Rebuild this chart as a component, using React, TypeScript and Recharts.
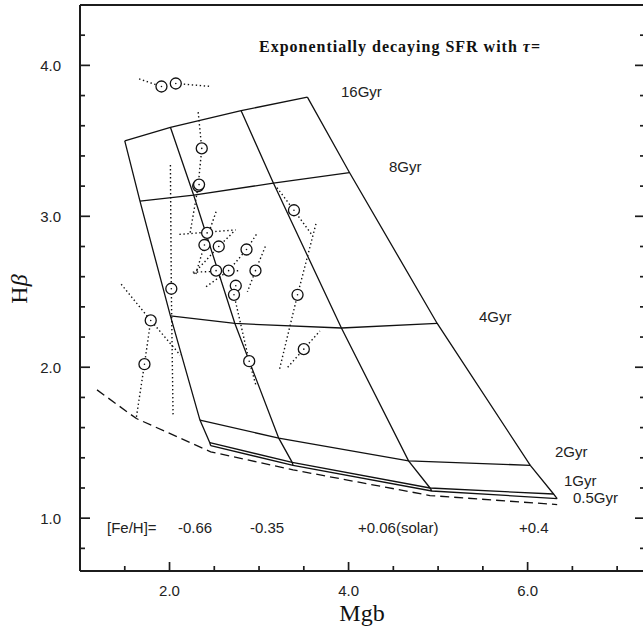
import React from "react";
import { ComposedChart, Scatter, XAxis, YAxis } from "recharts";

type Pt = [number, number];

// axis ticks
const X_TICKS = [1.5, 2.0, 2.5, 3.0, 3.5, 4.0, 4.5, 5.0, 5.5, 6.0, 6.5, 7.0];
const X_MAJOR = [2, 4, 6];
const Y_TICKS = [0.8, 1.0, 1.2, 1.4, 1.6, 1.8, 2.0, 2.2, 2.4, 2.6, 2.8, 3.0, 3.2, 3.4, 3.6, 3.8, 4.0, 4.2];
const Y_MAJOR = [1, 2, 3, 4];

// model tracks, one per [Fe/H], points ordered by age (16, 8, 4, 2, 1, 0.5 Gyr)
const FEH_LABELS = ["-0.66", "-0.35", "+0.06(solar)", "+0.4"];
const AGE_LABELS = ["16Gyr", "8Gyr", "4Gyr", "2Gyr", "1Gyr", "0.5Gyr"];
const TRACK_M066: Pt[] = [[1.50, 3.50], [1.67, 3.10], [2.01, 2.34], [2.34, 1.65], [2.45, 1.50], [2.46, 1.48]];
const TRACK_M035: Pt[] = [[2.01, 3.59], [2.27, 3.14], [2.73, 2.29], [3.22, 1.53], [3.37, 1.37], [3.38, 1.35]];
const TRACK_P006: Pt[] = [[2.80, 3.70], [3.16, 3.22], [3.92, 2.26], [4.67, 1.38], [4.91, 1.20], [4.93, 1.18]];
const TRACK_P040: Pt[] = [[3.54, 3.79], [4.01, 3.29], [4.99, 2.29], [6.03, 1.35], [6.29, 1.16], [6.33, 1.13]];
const TRACKS = [TRACK_M066, TRACK_M035, TRACK_P006, TRACK_P040];

// lower envelope (dashed)
const DASHED: Pt[] = [[1.19, 1.85], [1.63, 1.66], [2.46, 1.44], [3.38, 1.32], [4.91, 1.15], [6.33, 1.09]];

// galaxies
const GALAXIES: Pt[] = [
  [1.91, 3.86], [2.07, 3.88], [2.36, 3.45], [2.32, 3.20], [2.33, 3.21], [3.39, 3.04],
  [2.42, 2.89], [2.39, 2.81], [2.55, 2.80], [2.86, 2.78], [2.52, 2.64], [2.66, 2.64],
  [2.96, 2.64], [2.74, 2.54], [2.72, 2.48], [2.02, 2.52], [1.79, 2.31], [1.72, 2.02],
  [2.89, 2.04], [3.43, 2.48], [3.50, 2.12],
];

// dotted gradient / error lines
const GRADIENTS: Pt[][] = [
  [[1.66, 3.91], [1.91, 3.86]],
  [[2.07, 3.88], [2.47, 3.86]],
  [[2.32, 3.69], [2.36, 3.45], [2.32, 3.20], [2.23, 2.89]],
  [[2.52, 3.03], [2.39, 2.81], [2.29, 2.61]],
  [[2.11, 2.88], [2.74, 2.91]],
  [[2.26, 2.63], [2.79, 2.64]],
  [[2.27, 2.62], [2.55, 2.80], [2.72, 2.90]],
  [[2.97, 2.88], [2.86, 2.78], [2.66, 2.64], [2.40, 2.53]],
  [[3.07, 2.80], [2.96, 2.64], [2.87, 2.50]],
  [[2.74, 2.54], [2.72, 2.48], [2.89, 2.04], [2.97, 1.87]],
  [[2.01, 3.34], [2.02, 2.52], [2.04, 1.67]],
  [[1.46, 2.55], [1.79, 2.31], [2.12, 2.08]],
  [[1.79, 2.31], [1.72, 2.02], [1.63, 1.67]],
  [[3.23, 1.99], [3.43, 2.48], [3.64, 2.96]],
  [[3.32, 2.00], [3.50, 2.12], [3.68, 2.24]],
  [[3.20, 3.19], [3.39, 3.04], [3.60, 2.87]],
];

const INK = "#111";
const AXIS = "#1c1c1c";
const SANS = "'Liberation Sans', Arial, sans-serif";
const SERIF = "'Liberation Serif', 'Times New Roman', serif";

const rows = (pts: Pt[]) => pts.map(([x, y]) => ({ x, y }));
const AGE_LINES: Pt[][] = AGE_LABELS.map((_, i) => TRACKS.map((t) => t[i]));

const noShape = () => <g />;

function Ring(props: any) {
  const { cx, cy } = props;
  return (
    <g>
      <circle cx={cx} cy={cy} r={5.5} fill="#fff" stroke={INK} strokeWidth={1.3} />
      <circle cx={cx} cy={cy} r={0.8} fill={INK} />
    </g>
  );
}

const isMajorY = (v: number) => Y_MAJOR.some((m) => Math.abs(m - v) < 1e-6);

function BottomTick(props: any) {
  const { x, y, payload } = props;
  const major = X_MAJOR.includes(payload.value);
  return (
    <g>
      <line x1={x} x2={x} y1={y} y2={y - (major ? 9 : 5)} stroke={AXIS} strokeWidth={1.7} />
      {major && (
        <text x={x} y={y + 25} textAnchor="middle" fontSize={15} fontFamily={SANS} fill="#222">
          {payload.value.toFixed(1)}
        </text>
      )}
    </g>
  );
}

function TopTick(props: any) {
  const { x, y, payload } = props;
  const major = X_MAJOR.includes(payload.value);
  return <line x1={x} x2={x} y1={y} y2={y + (major ? 10 : 5.5)} stroke={AXIS} strokeWidth={1.7} />;
}

function LeftTick(props: any) {
  const { x, y, payload } = props;
  const major = isMajorY(payload.value);
  return (
    <g>
      <line x1={x} x2={x + (major ? 10 : 5)} y1={y} y2={y} stroke={AXIS} strokeWidth={1.7} />
      {major && (
        <text x={x - 19} y={y + 5.5} textAnchor="end" fontSize={15} fontFamily={SANS} fill="#222">
          {payload.value.toFixed(1)}
        </text>
      )}
    </g>
  );
}

function RightTick(props: any) {
  const { x, y, payload } = props;
  const major = isMajorY(payload.value);
  return <line x1={x} x2={x - (major ? 9 : 4)} y1={y} y2={y} stroke={AXIS} strokeWidth={1.7} />;
}

const solid = { stroke: INK, strokeWidth: 1.3 };
const dotted = { stroke: INK, strokeWidth: 1.4, strokeDasharray: "1.4 2.6" };
const dashed = { stroke: INK, strokeWidth: 1.3, strokeDasharray: "9 5" };

const label = { fontFamily: SANS, fontSize: 15, fill: "#222" };

export default function App() {
  return (
    <div style={{ position: "absolute", left: 0, top: 0, width: 643, height: 631, overflow: "hidden", background: "#fff" }}>
      <ComposedChart width={645} height={631} margin={{ top: 0, right: 0, bottom: 0, left: 0 }}>
        <XAxis
          dataKey="x"
          type="number"
          domain={[1.0, 7.3]}
          allowDataOverflow
          ticks={X_TICKS}
          interval={0}
          height={60}
          tickSize={0}
          tickMargin={0}
          tickLine={false}
          tick={<BottomTick />}
          axisLine={{ stroke: AXIS, strokeWidth: 2 }}
        />
        <XAxis
          xAxisId="top"
          orientation="top"
          type="number"
          domain={[1.0, 7.3]}
          allowDataOverflow
          ticks={X_TICKS}
          interval={0}
          height={5}
          tickSize={0}
          tickMargin={0}
          tickLine={false}
          tick={<TopTick />}
          axisLine={{ stroke: AXIS, strokeWidth: 2 }}
        />
        <YAxis
          dataKey="y"
          type="number"
          domain={[0.65, 4.4]}
          allowDataOverflow
          ticks={Y_TICKS}
          interval={0}
          width={80}
          tickSize={0}
          tickMargin={0}
          tickLine={false}
          tick={<LeftTick />}
          axisLine={{ stroke: AXIS, strokeWidth: 2 }}
        />
        <YAxis
          yAxisId="right"
          orientation="right"
          type="number"
          domain={[0.65, 4.4]}
          allowDataOverflow
          ticks={Y_TICKS}
          interval={0}
          width={1}
          tickSize={0}
          tickMargin={0}
          tickLine={false}
          tick={<RightTick />}
          axisLine={{ stroke: AXIS, strokeWidth: 2 }}
        />

        {TRACKS.map((t, i) => (
          <Scatter key={"feh" + i} data={rows(t)} line={solid} lineType="joint" shape={noShape} isAnimationActive={false} />
        ))}
        {AGE_LINES.map((a, i) => (
          <Scatter key={"age" + i} data={rows(a)} line={solid} lineType="joint" shape={noShape} isAnimationActive={false} />
        ))}
        <Scatter data={rows(DASHED)} line={dashed} lineType="joint" shape={noShape} isAnimationActive={false} />
        {GRADIENTS.map((g, i) => (
          <Scatter key={"g" + i} data={rows(g)} line={dotted} lineType="joint" shape={noShape} isAnimationActive={false} />
        ))}
        <Scatter data={rows(GALAXIES)} shape={<Ring />} isAnimationActive={false} />
      </ComposedChart>

      <svg width={643} height={631} style={{ position: "absolute", left: 0, top: 0, pointerEvents: "none" }}>
        <text x={259} y={52} fontFamily={SERIF} fontWeight="bold" fontSize={16} fill="#111" textLength={281}>
          Exponentially decaying SFR with <tspan fontStyle="italic">τ</tspan>=
        </text>
        <text x={341} y={97} {...label}>{AGE_LABELS[0]}</text>
        <text x={389} y={172} {...label}>{AGE_LABELS[1]}</text>
        <text x={479} y={322} {...label}>{AGE_LABELS[2]}</text>
        <text x={555} y={457} {...label}>{AGE_LABELS[3]}</text>
        <text x={564} y={486} {...label}>{AGE_LABELS[4]}</text>
        <text x={573} y={503} {...label}>{AGE_LABELS[5]}</text>
        <text x={107} y={533} {...label}>[Fe/H]=</text>
        <text x={178} y={533} {...label}>{FEH_LABELS[0]}</text>
        <text x={250} y={533} {...label}>{FEH_LABELS[1]}</text>
        <text x={358} y={533} {...label}>{FEH_LABELS[2]}</text>
        <text x={519} y={533} {...label}>{FEH_LABELS[3]}</text>
        <text x={362} y={621} textAnchor="middle" fontFamily={SERIF} fontSize={24} fill="#111">Mgb</text>
        <text x={27} y={289} textAnchor="middle" fontFamily={SERIF} fontSize={24} fill="#111" transform="rotate(-90 27 289)">
          H<tspan fontStyle="italic">β</tspan>
        </text>
      </svg>
    </div>
  );
}
